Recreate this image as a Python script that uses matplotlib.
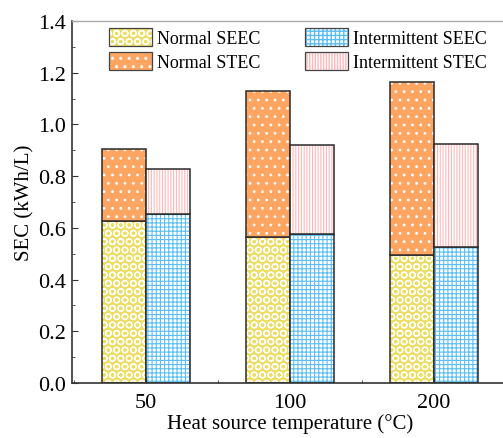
import matplotlib.pyplot as plt
import numpy as np
from matplotlib.patches import Patch
from matplotlib.ticker import MultipleLocator

plt.rcParams["font.family"] = ["Liberation Serif", "DejaVu Serif"]

temps = ["50", "100", "200"]
normal_seec = [0.625, 0.563, 0.496]
normal_stec = [0.279, 0.567, 0.669]
inter_seec = [0.654, 0.575, 0.525]
inter_stec = [0.175, 0.347, 0.399]

c_yellow = "#EEDD62"
c_orange = "#FFA562"
c_blue = "#5BBEF5"
c_pink = "#FFB8B8"
c_edge = "#2A2A2A"

fig = plt.figure(figsize=(5.03, 4.39), dpi=100)
ax = fig.add_axes([72 / 503, 55 / 439, 436 / 503, 362 / 439])

x = np.arange(len(temps))
w = 0.305

# face colour, hatch, hatch colour, hatch line width
styles = {
    "Normal SEEC": (c_yellow, "OO", "white", 0.9),
    "Normal STEC": (c_orange, "..", "white", 0.8),
    "Intermittent SEEC": ("white", "++++", c_blue, 0.8),
    "Intermittent STEC": ("white", "||||||", c_pink, 0.8),
}


def hatched(name, **kw):
    face, hatch, hcolor, hlw = styles[name]
    with plt.rc_context({"hatch.linewidth": hlw}):
        return Patch(facecolor=face, edgecolor=hcolor, hatch=hatch,
                     linewidth=0, **kw)


def hbar(xpos, h, bottom, name):
    face, hatch, hcolor, hlw = styles[name]
    # hatched fill first, then a plain outline on top
    with plt.rc_context({"hatch.linewidth": hlw}):
        ax.bar(xpos, h, w, bottom=bottom, color=face, edgecolor=hcolor,
               hatch=hatch, linewidth=0, align="edge")
    ax.bar(xpos, h, w, bottom=bottom, fill=False, edgecolor=c_edge,
           linewidth=1.1, align="edge")


hbar(x - w, normal_seec, 0, "Normal SEEC")
hbar(x - w, normal_stec, normal_seec, "Normal STEC")
hbar(x, inter_seec, 0, "Intermittent SEEC")
hbar(x, inter_stec, inter_seec, "Intermittent STEC")

ax.set_xlim(-0.514, 2.514)
ax.set_ylim(0, 1.4)
ax.set_xticks(x)
ax.set_xticklabels(temps)
ax.xaxis.set_minor_locator(MultipleLocator(0.5))
ax.yaxis.set_major_locator(MultipleLocator(0.2))
ax.yaxis.set_minor_locator(MultipleLocator(0.1))
ax.yaxis.set_major_formatter(plt.FormatStrFormatter("%.1f"))
ax.tick_params(direction="in", which="both", labelsize=16, colors="#333333",
               labelcolor="black")
ax.tick_params(which="major", length=4)
ax.tick_params(which="minor", length=2.5)
ax.tick_params(axis="x", pad=7)
ax.tick_params(axis="y", pad=4)

for s in ["left", "bottom"]:
    ax.spines[s].set_color("#333333")
    ax.spines[s].set_linewidth(1.2)
ax.spines["top"].set_color("#AAAAAA")
ax.spines["top"].set_linewidth(1.0)

ax.set_ylabel("SEC (kWh/L)", fontsize=15, labelpad=3)
ax.set_xlabel("Heat source temperature (°C)", fontsize=15, labelpad=1)

order = ["Normal SEEC", "Normal STEC", "Intermittent SEEC", "Intermittent STEC"]
handles = []
for name in order:
    outline = Patch(fill=False, edgecolor="#444444", linewidth=0.9)
    handles.append((hatched(name), outline))

ax.legend(handles, order, ncol=2, frameon=False, fontsize=13,
          loc="upper left", bbox_to_anchor=(0.048, 1.025),
          handlelength=2.35, handleheight=1.1, handletextpad=0.28,
          columnspacing=2.5, labelspacing=0.3)

fig.savefig("out.png", dpi=100)
